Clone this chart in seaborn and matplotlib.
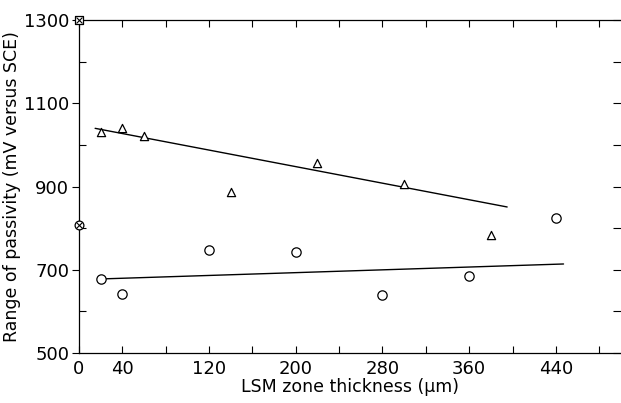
import matplotlib
matplotlib.use("Agg")
import matplotlib.pyplot as plt
import seaborn as sns
import pandas as pd
from matplotlib.ticker import FixedLocator

sns.set_style("ticks")
plt.rcParams['font.family'] = ['DejaVu Sans']
plt.rcParams['text.color'] = 'black'
plt.rcParams['axes.labelcolor'] = 'black'
plt.rcParams['xtick.color'] = 'black'
plt.rcParams['ytick.color'] = 'black'

# Data
tri_x = [20, 40, 60, 140, 220, 300, 380]
tri_y = [1031, 1040, 1021, 887, 957, 907, 784]
circ_x = [20, 40, 120, 200, 280, 360, 440]
circ_y = [678, 642, 748, 743, 640, 686, 824]
upper_fit_x = [15, 395]
upper_fit_y = [1040, 851]
lower_fit_x = [20, 447]
lower_fit_y = [678, 714]
ref_sq_x, ref_sq_y = [0], [1300]
ref_oc_x, ref_oc_y = [0], [808]

x_labels = [0, 40, 120, 200, 280, 360, 440]
y_labels = [500, 700, 900, 1100, 1300]

fig = plt.figure(figsize=(6.21, 4.03), dpi=100)
ax = fig.add_axes([0.127, 0.124, 0.873, 0.826])

tri = pd.DataFrame({"x": tri_x, "y": tri_y})
circ = pd.DataFrame({"x": circ_x, "y": circ_y})
sns.lineplot(x=upper_fit_x, y=upper_fit_y, ax=ax, color="black", lw=1.0)
sns.lineplot(x=lower_fit_x, y=lower_fit_y, ax=ax, color="black", lw=1.0)
sns.scatterplot(data=tri, x="x", y="y", ax=ax, marker="^", s=35,
                facecolor="white", edgecolor="black", linewidth=0.9, zorder=3)
sns.scatterplot(data=circ, x="x", y="y", ax=ax, marker="o", s=45,
                facecolor="white", edgecolor="black", linewidth=0.9, zorder=3)
ax.scatter(ref_sq_x, ref_sq_y, marker="s", s=30, facecolor="white",
           edgecolor="black", linewidth=0.9, zorder=5, clip_on=False)
ax.scatter(ref_sq_x, ref_sq_y, marker="x", s=18, color="black",
           linewidth=0.8, zorder=6, clip_on=False)
ax.scatter(ref_oc_x, ref_oc_y, marker="o", s=40, facecolor="white",
           edgecolor="black", linewidth=0.9, zorder=5, clip_on=False)
ax.scatter(ref_oc_x, ref_oc_y, marker="x", s=18, color="black",
           linewidth=0.8, zorder=6, clip_on=False)

ax.set_xlim(0, 500)
ax.set_ylim(500, 1300)

ax.xaxis.set_major_locator(FixedLocator(x_labels))
ax.xaxis.set_minor_locator(FixedLocator([80, 160, 240, 320, 400, 480]))
ax.yaxis.set_major_locator(FixedLocator(y_labels))
ax.yaxis.set_minor_locator(FixedLocator([600, 800, 1000, 1200]))

ax.tick_params(axis="x", which="both", direction="in", top=True, bottom=True,
               length=5, width=0.8, labelsize=13, pad=5)
ax.tick_params(axis="y", which="major", direction="out", left=True, right=False,
               length=5, width=0.8, labelsize=13, pad=2)
ax.tick_params(axis="y", which="minor", direction="in", left=True, right=False,
               length=5, width=0.8)
# right-side inward ticks
ax2 = ax.twinx()
ax2.set_ylim(500, 1300)
ax2.yaxis.set_major_locator(FixedLocator([500, 600, 700, 800, 900, 1000, 1100, 1200, 1300]))
ax2.tick_params(axis="y", direction="in", length=6, width=0.8, labelright=False)
for s in ["right", "left", "bottom", "top"]:
    ax2.spines[s].set_visible(False)

ax.spines["right"].set_visible(False)
for s in ["left", "bottom", "top"]:
    ax.spines[s].set_linewidth(0.9)
    ax.spines[s].set_color("black")

ax.set_xlabel("LSM zone thickness (μm)", fontsize=12.5, labelpad=0)
ax.set_ylabel("Range of passivity (mV versus SCE)", fontsize=12.5, labelpad=2)

fig.savefig("out.png", dpi=100)
